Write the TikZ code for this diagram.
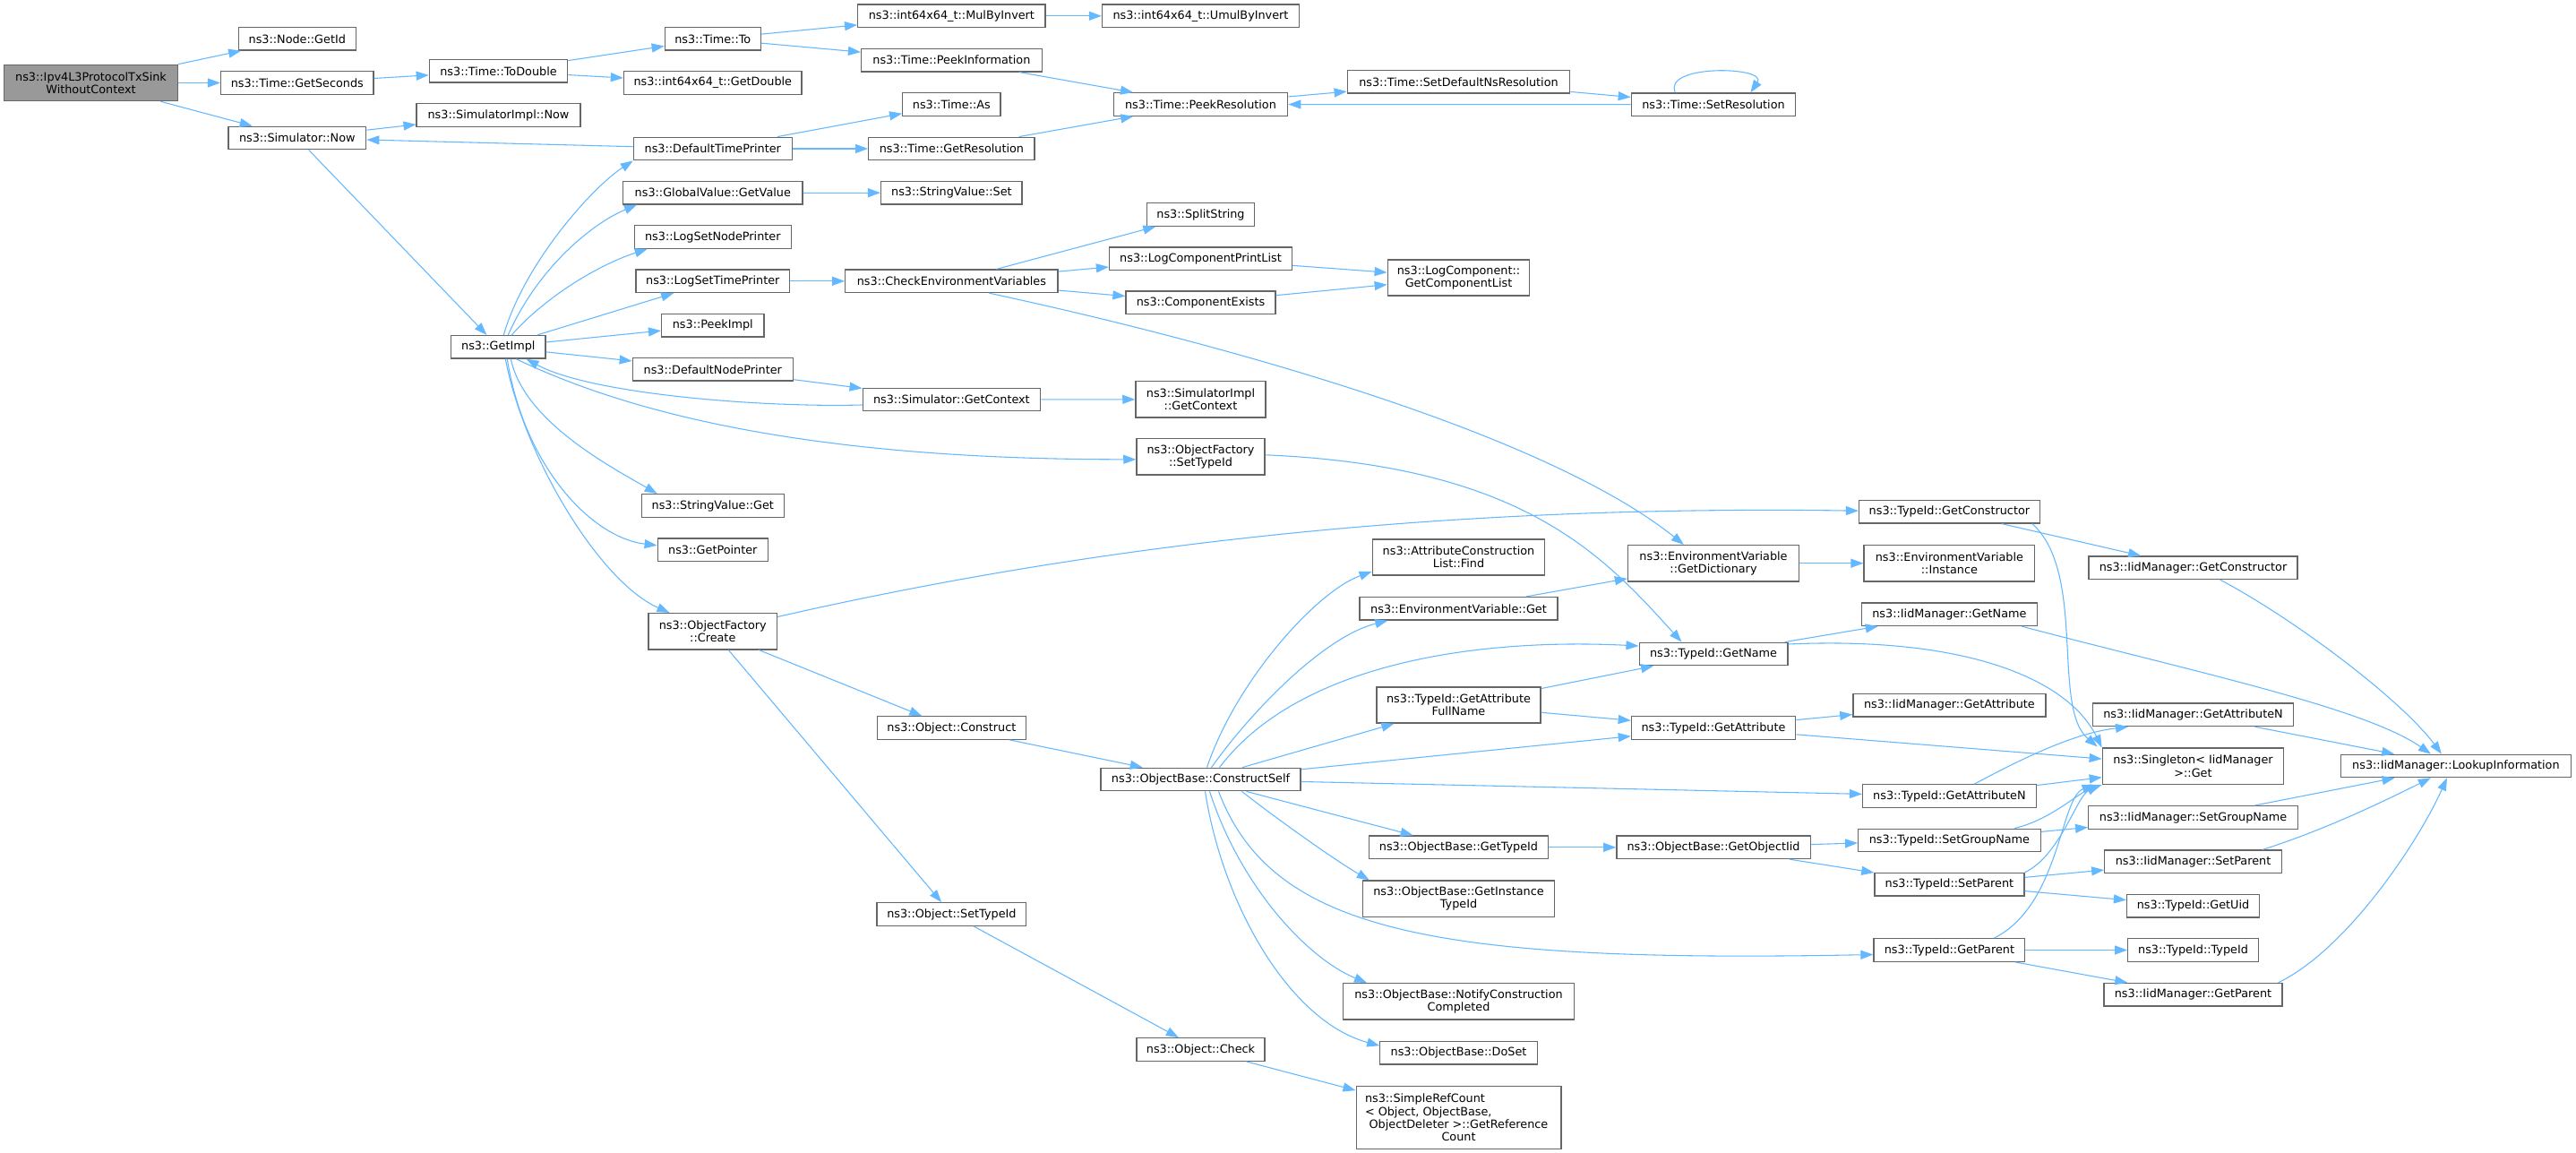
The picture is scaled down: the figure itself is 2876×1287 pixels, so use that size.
\documentclass[tikz,border=0pt]{standalone}
\usepackage{fontspec}
\setmainfont{DejaVu Sans}
\usetikzlibrary{arrows.meta,calc}
\definecolor{edgeblue}{HTML}{63B8FF}
\definecolor{boxgray}{HTML}{666666}
\definecolor{rootgray}{HTML}{999999}
\newcommand\dxfont{\fontsize{9.6}{10.6}\selectfont}
\newsavebox\srcbox
\tikzset{
  box/.style={draw=boxgray,line width=1pt,fill=white,inner sep=0pt,align=center,font=\dxfont,text=black},
  bw/.style={minimum width=#1*0.75pt},
  h1/.style={minimum height=19.1pt},
  h2/.style={minimum height=30.2pt},
  h4/.style={minimum height=52.5pt},
  ed/.style={draw=edgeblue,line width=0.8pt,-{Triangle[length=10.5pt,width=7.5pt]}},
}
\begin{document}
\sbox\srcbox{\dxfont ObjectDeleter >::GetReference}
\begin{tikzpicture}[x=0.75pt,y=-0.75pt]
\fill[white] (0,0) rectangle (2876,1287);
\useasboundingbox (0,0) rectangle (2876,1287);

% ---------- nodes ----------
\node[box,bw=194,h2,fill=rootgray] (ipv4) at (101.5,92.5) {ns3::Ipv4L3ProtocolTxSink\\WithoutContext};
\node[box,bw=131,h1] (getid) at (331.8,43.3) {ns3::Node::GetId};
\node[box,bw=170.4,h1] (getsec) at (331.8,92.5) {ns3::Time::GetSeconds};
\node[box,bw=153.8,h1] (simnow) at (331.8,154) {ns3::Simulator::Now};
\node[box,bw=154.3,h1] (todouble) at (556.5,79.3) {ns3::Time::ToDouble};
\node[box,bw=182.7,h1] (implnow) at (556.5,128.5) {ns3::SimulatorImpl::Now};
\node[box,bw=105.2,h1] (getimpl) at (556.3,387.3) {ns3::GetImpl};
\node[box,bw=107,h1] (timeto) at (795.8,43.3) {ns3::Time::To};
\node[box,bw=209.4,h1] (mulinv) at (1062.4,17.8) {ns3::int64x64\_t::MulByInvert};
\node[box,bw=220,h1] (umulinv) at (1340.5,17.8) {ns3::int64x64\_t::UmulByInvert};
\node[box,bw=201.6,h1] (peekinfo) at (1062.4,67.2) {ns3::Time::PeekInformation};
\node[box,bw=198.6,h1] (getdouble) at (795.8,92.5) {ns3::int64x64\_t::GetDouble};
\node[box,bw=109.3,h1] (timeas) at (1062.4,116.5) {ns3::Time::As};
\node[box,bw=194.5,h1] (peekres) at (1340.5,116.5) {ns3::Time::PeekResolution};
\node[box,bw=176.8,h1] (dtp) at (795.8,166) {ns3::DefaultTimePrinter};
\node[box,bw=185.4,h1] (getres) at (1062.4,166) {ns3::Time::GetResolution};
\node[box,bw=200.3,h1] (getvalue) at (795.8,215.2) {ns3::GlobalValue::GetValue};
\node[box,bw=157.5,h1] (svset) at (1062.4,215.2) {ns3::StringValue::Set};
\node[box,bw=174.9,h1] (lsnp) at (795.8,264.5) {ns3::LogSetNodePrinter};
\node[box,bw=171.7,h1] (lstp) at (795.8,313.8) {ns3::LogSetTimePrinter};
\node[box,bw=237.4,h1] (checkenv) at (1062.4,313.8) {ns3::CheckEnvironmentVariables};
\node[box,bw=120.3,h1] (split) at (1340.5,239.5) {ns3::SplitString};
\node[box,bw=204,h1] (lcpl) at (1340.5,288.8) {ns3::LogComponentPrintList};
\node[box,bw=166.9,h1] (compex) at (1340.5,337.8) {ns3::ComponentExists};
\node[box,bw=114.3,h1] (peekimpl) at (795.8,363.3) {ns3::PeekImpl};
\node[box,bw=179,h1] (dnp) at (795.8,412.3) {ns3::DefaultNodePrinter};
\node[box,bw=198.4,h1] (simctx) at (1062.4,446) {ns3::Simulator::GetContext};
\node[box,bw=145.2,h2] (implctx) at (1340.5,445.8) {ns3::SimulatorImpl\\::GetContext};
\node[box,bw=248.5,h1] (setdef) at (1628.5,91.3) {ns3::Time::SetDefaultNsResolution};
\node[box,bw=183.3,h1] (setres) at (1913,116.7) {ns3::Time::SetResolution};
\node[box,bw=158.5,h2] (getcomplist) at (1628.5,310) {ns3::LogComponent::\\GetComponentList};
\node[box,bw=143.2,h2] (ofsettid) at (1340.5,509.8) {ns3::ObjectFactory\\::SetTypeId};
\node[box,bw=158.9,h1] (svget) at (795.8,564.5) {ns3::StringValue::Get};
\node[box,bw=123.1,h1] (getptr) at (795.8,613.8) {ns3::GetPointer};
\node[box,bw=143.3,h2] (ofcreate) at (795.8,704.7) {ns3::ObjectFactory\\::Create};
\node[box,bw=165.7,h1] (oconstruct) at (1062.4,812.5) {ns3::Object::Construct};
\node[box,bw=222.9,h1] (cs) at (1340.5,870) {ns3::ObjectBase::ConstructSelf};
\node[box,bw=201.7,h1] (getctor) at (2176.4,571.2) {ns3::TypeId::GetConstructor};
\node[box,bw=192.5,h2] (acfind) at (1628.5,622) {ns3::AttributeConstruction\\List::Find};
\node[box,bw=191,h2] (getdict) at (1913,628.7) {ns3::EnvironmentVariable\\::GetDictionary};
\node[box,bw=190.7,h2] (evinst) at (2176.4,628.7) {ns3::EnvironmentVariable\\::Instance};
\node[box,bw=220.9,h1] (evget) at (1628.5,679.3) {ns3::EnvironmentVariable::Get};
\node[box,bw=165.7,h1] (getname) at (1913,730) {ns3::TypeId::GetName};
\node[box,bw=196,h1] (iidgetname) at (2176.4,685.7) {ns3::IidManager::GetName};
\node[box,bw=183.2,h2] (gafn) at (1628.5,787) {ns3::TypeId::GetAttribute\\FullName};
\node[box,bw=183.3,h1] (getattr) at (1913,812.5) {ns3::TypeId::GetAttribute};
\node[box,bw=215.1,h1] (iidgetattr) at (2176.4,787.2) {ns3::IidManager::GetAttribute};
\node[box,bw=233.1,h1] (iidgetctor) at (2448.5,633.7) {ns3::IidManager::GetConstructor};
\node[box,bw=223.7,h1] (iidgetattrn) at (2448.5,797.8) {ns3::IidManager::GetAttributeN};
\node[box,bw=202.4,h2] (singleton) at (2448.5,855.2) {ns3::Singleton< IidManager\\>::Get};
\node[box,bw=257.4,h1] (lookup) at (2741.9,855) {ns3::IidManager::LookupInformation};
\node[box,bw=193.6,h1] (getattrn) at (2176.4,888.5) {ns3::TypeId::GetAttributeN};
\node[box,bw=200.2,h1] (obgettid) at (1628.5,945.8) {ns3::ObjectBase::GetTypeId};
\node[box,bw=216.3,h1] (getobjiid) at (1913,945.8) {ns3::ObjectBase::GetObjectIid};
\node[box,bw=203.6,h1] (setgroup) at (2176.4,938) {ns3::TypeId::SetGroupName};
\node[box,bw=166.9,h1] (setparent) at (2176.4,987.2) {ns3::TypeId::SetParent};
\node[box,bw=214,h2] (instid) at (1628.5,1003.2) {ns3::ObjectBase::GetInstance\\TypeId};
\node[box,bw=168.8,h1] (getparent) at (2176.4,1060.5) {ns3::TypeId::GetParent};
\node[box,bw=257.7,h2] (notify) at (1628.5,1117.8) {ns3::ObjectBase::NotifyConstruction\\Completed};
\node[box,bw=175.4,h1] (doset) at (1628.5,1175.2) {ns3::ObjectBase::DoSet};
\node[box,bw=228.7,h4] (srcount) at (1628.5,1247.3) {\makebox[\wd\srcbox][l]{\kern-3.5pt ns3::SimpleRefCount}\\\makebox[\wd\srcbox][l]{\kern-3.5pt < Object, ObjectBase,}\\ObjectDeleter >::GetReference\\Count};
\node[box,bw=143.2,h1] (check) at (1340.5,1171.5) {ns3::Object::Check};
\node[box,bw=166.7,h1] (osettid) at (1062.4,1020.5) {ns3::Object::SetTypeId};
\node[box,bw=233.6,h1] (iidsetgroup) at (2448.5,912.5) {ns3::IidManager::SetGroupName};
\node[box,bw=197.5,h1] (iidsetparent) at (2448.5,961.8) {ns3::IidManager::SetParent};
\node[box,bw=147.9,h1] (getuid) at (2448.5,1011.2) {ns3::TypeId::GetUid};
\node[box,bw=145.5,h1] (typeid) at (2448.5,1060.5) {ns3::TypeId::TypeId};
\node[box,bw=198.9,h1] (iidgetparent) at (2448.5,1110.2) {ns3::IidManager::GetParent};

% ---------- straight edges ----------
\foreach \a/\b in {ipv4/getid, ipv4/getsec, ipv4/simnow, getsec/todouble, todouble/timeto,
  todouble/getdouble, timeto/mulinv, timeto/peekinfo, mulinv/umulinv, peekinfo/peekres,
  simnow/implnow, simnow/getimpl, dtp/simnow, dtp/timeas, dtp/getres, getres/peekres,
  peekres/setdef, setdef/setres, setres/peekres, getimpl/lstp, getimpl/peekimpl, getimpl/dnp,
  getvalue/svset, lstp/checkenv, checkenv/split, checkenv/lcpl, checkenv/compex,
  lcpl/getcomplist, compex/getcomplist, dnp/simctx, simctx/implctx, ofcreate/oconstruct,
  ofcreate/osettid, oconstruct/cs, osettid/check, check/srcount, cs/gafn, cs/getattr,
  cs/getattrn, cs/obgettid, evget/getdict, getdict/evinst, getname/iidgetname, gafn/getname,
  gafn/getattr, getattr/iidgetattr, getattr/singleton, getctor/iidgetctor, iidgetattrn/lookup,
  getattrn/singleton, obgettid/getobjiid, getobjiid/setgroup, getobjiid/setparent,
  setgroup/iidsetgroup, setparent/iidsetparent, setparent/getuid, getparent/typeid,
  getparent/iidgetparent, iidsetgroup/lookup}
  \draw[ed] (\a) -- (\b);

% ---------- curved edges ----------
\draw[ed] ($(getimpl.north)+(6,0)$) .. controls (585,295) and (660,210) .. (dtp.south west);
\draw[ed] ($(getimpl.north)+(11,0)$) .. controls (600,300) and (660,250) .. ($(getvalue.south west)+(16,0)$);
\draw[ed] ($(getimpl.north)+(15,0)$) .. controls (610,330) and (670,295) .. ($(lsnp.south west)+(15,0)$);
\draw[ed] ($(simctx.west)+(0,6)$) .. controls (850,455) and (660,440) .. ($(getimpl.south east)+(-22,0)$);
\draw[ed] ($(getimpl.south)+(20,0)$) .. controls (700,460) and (900,513) .. ($(ofsettid.west)+(0,3)$);
\draw[ed] ($(getimpl.south)+(14,0)$) .. controls (585,470) and (680,520) .. ($(svget.north west)+(18,0)$);
\draw[ed] ($(getimpl.south)+(10,0)$) .. controls (585,520) and (660,600) .. ($(getptr.west)+(0,-5)$);
\draw[ed] ($(getimpl.south)+(8,0)$) .. controls (585,510) and (670,650) .. ($(ofcreate.north west)+(24,0)$);
\draw[ed] ([xshift=-32pt]setres.north) .. controls +(-11pt,24pt) and +(15pt,22pt) .. ([xshift=31pt]setres.north);
\draw[ed] ($(checkenv.south)+(42,0)$) .. controls (1350,380) and (1720,480) .. ($(getdict.north west)+(63,0)$);
\draw[ed] ($(ofsettid.east)+(0,-2)$) .. controls (1700,520) and (1790,620) .. ($(getname.north west)+(48,0)$);
\draw[ed] ($(ofcreate.north east)+(0,4.6)$) .. controls (1300,590) and (1700,565) .. ($(getctor.west)+(0,-1)$);
\draw[ed] ($(cs.north)+(7,0)$) .. controls (1380,760) and (1470,660) .. ($(acfind.west)+(0,16)$);
\draw[ed] ($(cs.north)+(12,0)$) .. controls (1400,790) and (1480,710) .. ($(evget.south west)+(32,0)$);
\draw[ed] ($(cs.north)+(21,0)$) .. controls (1450,740) and (1650,712) .. ($(getname.west)+(0,-9)$);
\draw[ed] ($(cs.south)+(46,0)$) .. controls (1420,910) and (1490,960) .. ($(instid.north west)+(8,0)$);
\draw[ed] ($(cs.south)+(20,0)$) .. controls (1420,1040) and (1600,1075) .. ($(getparent.west)+(0,5)$);
\draw[ed] ($(cs.south)+(10,0)$) .. controls (1385,990) and (1460,1070) .. ($(notify.north west)+(27,0)$);
\draw[ed] ($(cs.south)+(5,0)$) .. controls (1365,1010) and (1440,1140) .. ($(doset.west)+(0,-8)$);
\draw[ed] ($(getname.east)+(0,-11)$) .. controls (2200,710) and (2310,760) .. (singleton.north west);
\draw[ed] ($(getctor.south east)+(-9,0)$) .. controls (2330,640) and (2290,790) .. ($(singleton.north west)+(-5,-1)$);
\draw[ed] ($(iidgetctor.south)+(30,0)$) .. controls (2560,690) and (2680,780) .. ($(lookup.north)+(-16,0)$);
\draw[ed] ($(iidgetname.south east)+(-18,0)$) .. controls (2450,750) and (2640,790) .. ($(lookup.north)+(-28,0)$);
\draw[ed] ($(getattrn.north)+(28,0)$) .. controls (2270,840) and (2320,818) .. ($(iidgetattrn.south west)+(40,0)$);
\draw[ed] ($(setgroup.north east)+(-30,0)$) .. controls (2290,915) and (2320,885) .. (singleton.south west);
\draw[ed] (setparent.north east) .. controls (2300,955) and (2318,890) .. ($(singleton.south west)+(-3,0)$);
\draw[ed] ($(getparent.north)+(50,0)$) .. controls (2300,1010) and (2300,890) .. ($(singleton.south west)+(-8,0)$);
\draw[ed] ($(iidsetparent.north east)+(-22,0)$) .. controls (2600,925) and (2670,890) .. ($(lookup.south)+(-28,0)$);
\draw[ed] ($(iidgetparent.north east)+(-5,0)$) .. controls (2620,1060) and (2700,940) .. ($(lookup.south)+(-10,0)$);
\end{tikzpicture}
\end{document}
